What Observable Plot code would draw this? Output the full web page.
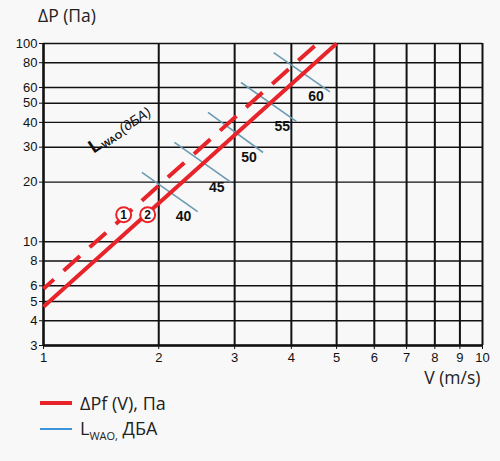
<!DOCTYPE html>
<html><head><meta charset="utf-8">
<script src="https://cdn.jsdelivr.net/npm/d3@7"></script>
<script src="https://cdn.jsdelivr.net/npm/@observablehq/plot@0.6"></script>
<style>
html,body{margin:0;padding:0;background:#f8f8f8;}
body{width:500px;height:461px;overflow:hidden;font-family:"Open Sans",sans-serif;color:#222;}
#title{height:30px;box-sizing:border-box;padding:3px 0 0 38px;font-size:17.5px;line-height:24px;}
#chart svg{display:block;background:#f8f8f8;}
#legend{padding-left:40px;font-size:18px;margin-top:-2px;}
.row{display:flex;align-items:center;height:26px;}
.sw{width:32px;margin-right:8px;}
.row sub{font-size:11px;vertical-align:-5px;}
</style></head><body>
<div id="title">ΔP (Па)</div>
<div id="chart"></div>
<div id="legend">
  <div class="row"><div class="sw" style="height:4px;background:#e8242b"></div><span>ΔPf (V), Па</span></div>
  <div class="row"><div class="sw" style="height:1.5px;background:#3b95d8"></div><span>L<sub>WAO,</sub> ДБА</span></div>
</div>
<script>
// axis ticks
const vTicks = [1, 2, 3, 4, 5, 6, 7, 8, 9, 10];
const pTicks = [3, 4, 5, 6, 8, 10, 20, 30, 40, 50, 60, 80, 100];
// pressure curves (1 = dashed, 2 = solid)
const curveNames = ["1", "2"];
const curveVStart = [1, 1];
const curvePStart = [5.8, 4.7];
const curveVEnd = [4.55, 5];
const curvePEnd = [100, 100];
// curve marker positions
const markerV = [1.64, 1.88];
const markerP = [13.7, 13.7];
// noise level lines L_WAO, dBA
const noiseLevels = [40, 45, 50, 55, 60];
const noiseVStart = [1.82, 2.18, 2.61, 3.10, 3.66];
const noisePStart = [22.4, 31.7, 44.9, 63.6, 90];
const noiseVEnd = [2.47, 2.94, 3.47, 4.10, 4.84];
const noisePEnd = [14.2, 20, 28.2, 40.5, 57];
// rotated L_WAO label
const lwaoLabel = {v: 1.61, p: 36.5, text: "LWAO(дБА)"};

const vShift = 0.5; // horizontal axis is log(V + 0.5)
const sx = v => v + vShift;

const curves = curveNames.map((n, i) => ({n, v0: curveVStart[i], p0: curvePStart[i], v1: curveVEnd[i], p1: curvePEnd[i], mv: markerV[i], mp: markerP[i]}));
const noise = noiseLevels.map((L, i) => ({L, v0: noiseVStart[i], p0: noisePStart[i], v1: noiseVEnd[i], p1: noisePEnd[i]}));

const red = "#e8242b", blue = "#6b9bb3";
const linkOpts = {x1: d => sx(d.v0), y1: "p0", x2: d => sx(d.v1), y2: "p1"};

const plot = Plot.plot({
  width: 500, height: 362,
  marginTop: 13, marginLeft: 43, marginRight: 18, marginBottom: 47,
  style: {fontFamily: "'Liberation Sans', Arial, sans-serif", background: "#f8f8f8", color: "#111", overflow: "visible"},
  x: {type: "log", domain: [sx(1), sx(10)], axis: null},
  y: {type: "log", domain: [3, 100], axis: null},
  marks: [
    Plot.gridX(vTicks.map(sx), {stroke: "#111", strokeOpacity: 1, strokeWidth: 2}),
    Plot.gridY(pTicks, {stroke: "#111", strokeOpacity: 1, strokeWidth: 1.4}),
    Plot.ruleX([sx(1)], {stroke: "#111", strokeWidth: 2.2}),
    Plot.ruleY([3], {stroke: "#111", strokeWidth: 2.6}),
    Plot.axisX({ticks: vTicks.map(sx), tickFormat: d => String(Math.round(d - vShift)), tickSize: 4, tickPadding: 3, fontSize: 13, label: null, stroke: "#111"}),
    Plot.axisY({ticks: pTicks, tickFormat: () => "", tickSize: 4, label: null, stroke: "#111"}),
    Plot.text(pTicks, {y: d => d, text: d => String(d), frameAnchor: "left", dx: -6, textAnchor: "end", fontSize: 13, fill: "#111"}),
    // noise lines
    Plot.link(noise, {...linkOpts, stroke: blue, strokeWidth: 1.6}),
    Plot.text(noise, {x: d => sx(d.v1), y: "p1", text: d => String(d.L), dx: -14, dy: 5, fontSize: 14, fontWeight: "bold", fill: "#111"}),
    // pressure curves
    Plot.link(curves.filter(d => d.n === "1"), {...linkOpts, stroke: red, strokeWidth: 4, strokeDasharray: "22,13", strokeDashoffset: 8}),
    Plot.link(curves.filter(d => d.n === "2"), {...linkOpts, stroke: red, strokeWidth: 4}),
    Plot.dot(curves, {x: d => sx(d.mv), y: "mp", r: 7.5, stroke: red, strokeWidth: 2, fill: "white"}),
    Plot.text(curves, {x: d => sx(d.mv), y: "mp", text: "n", fontSize: 12, fontWeight: "bold", fill: "#111"}),
    // rotated label
    Plot.text([lwaoLabel], {x: d => sx(d.v), y: "p", text: "text", rotate: -34, fontSize: 14, fill: "#111"}),
    // x axis title
    Plot.text(["V (m/s)"], {frameAnchor: "bottom-right", text: d => d, dx: -2, dy: 38, textAnchor: "end", fontSize: 17.5, fontFamily: "'Open Sans', sans-serif", fill: "#222"})
  ]
});
// rich text for L_WAO label
plot.querySelectorAll("text").forEach(t => {
  if (t.textContent === lwaoLabel.text) {
    t.textContent = "";
    const ns = "http://www.w3.org/2000/svg";
    const parts = [
      {s: "L", a: {"font-weight": "bold", "font-size": 19}},
      {s: "WAO", a: {"font-weight": "bold", "font-size": 9.5, "dy": 2}},
      {s: "(дБА)", a: {"font-style": "italic", "font-size": 14, "dy": -2, "dx": 1}}
    ];
    parts.forEach(p => {
      const ts = document.createElementNS(ns, "tspan");
      for (const k in p.a) ts.setAttribute(k, p.a[k]);
      ts.textContent = p.s;
      t.appendChild(ts);
    });
  }
});
document.getElementById("chart").appendChild(plot);
</script>
</body></html>
